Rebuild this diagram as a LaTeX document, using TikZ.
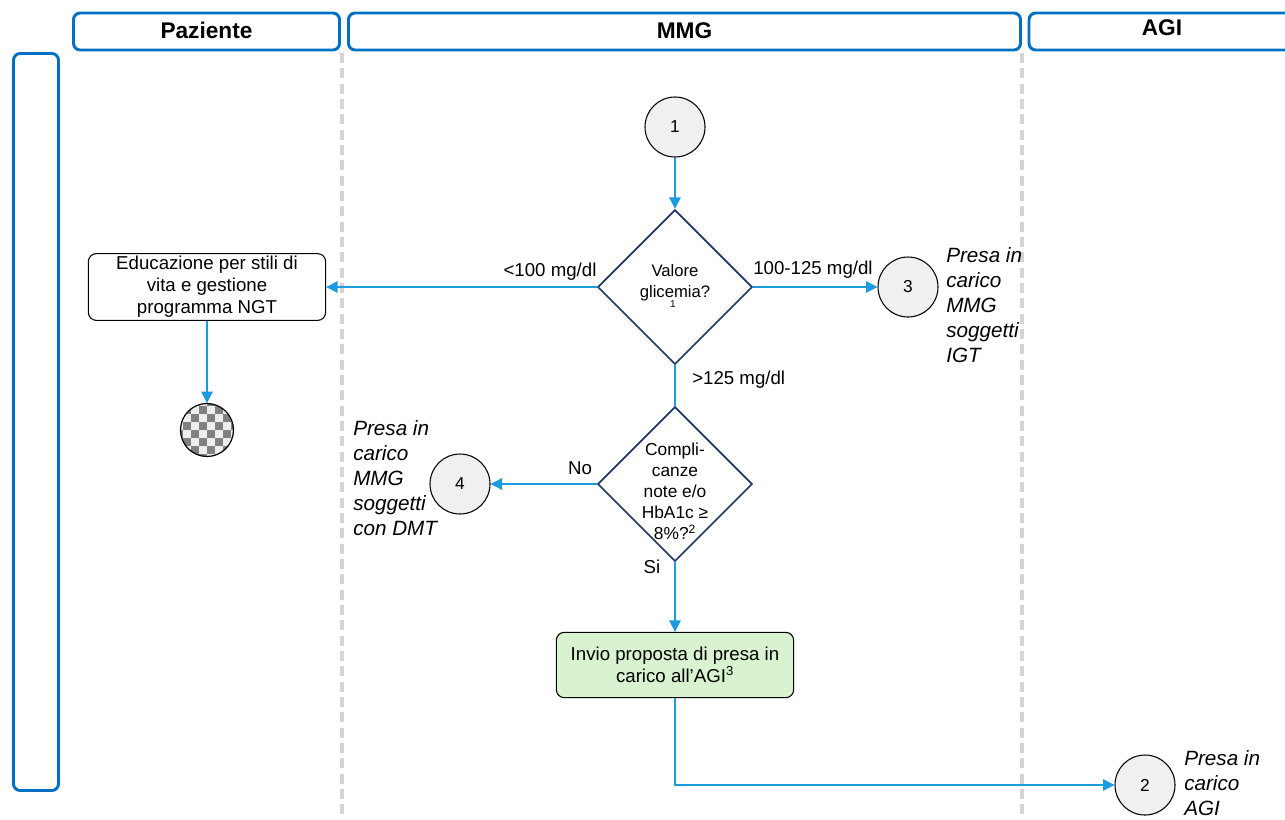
\documentclass[tikz,border=0pt]{standalone}
\usepackage{fontspec}
\setmainfont{Liberation Sans}
\usetikzlibrary{arrows.meta,shapes.geometric}

\definecolor{laneblue}{HTML}{0070C0}
\definecolor{flowblue}{HTML}{1B9BE0}
\definecolor{decnavy}{HTML}{1F3864}
\definecolor{dashgray}{HTML}{D4D4D4}
\definecolor{circfill}{HTML}{F0F0F0}
\definecolor{greenfill}{HTML}{D9F2D0}
\definecolor{chkdark}{HTML}{808080}
\definecolor{chklight}{HTML}{EEEEEE}

\tikzset{
  lanehead/.style={draw=laneblue, line width=2.2pt, rounded corners=5pt,
    font=\fontsize{17}{20}\selectfont\bfseries, inner sep=0pt},
  lanesep/.style={draw=dashgray, line width=2.6pt, dash pattern=on 7.5pt off 4pt},
  stepbox/.style={draw=black, line width=0.8pt, rounded corners=6pt,
    minimum width=178pt, minimum height=49pt, align=center, inner sep=2pt},
  decision/.style={diamond, draw=decnavy, line width=1.3pt, inner sep=0pt,
    minimum width=116pt, minimum height=116pt, aspect=1},
  connector/.style={circle, draw=black, line width=0.8pt, fill=circfill,
    minimum size=45pt, inner sep=0pt, font=\fontsize{13}{15}\selectfont},
  flow/.style={draw=flowblue, line width=1.2pt},
  flowarrow/.style={flow, -{Triangle[length=8.5pt,width=8.5pt]}},
  note/.style={font=\fontsize{15.5}{18.75}\selectfont\itshape, align=left,
    anchor=north west, inner sep=0pt},
  flowlabel/.style={inner sep=0pt}
}

\begin{document}
\begin{tikzpicture}[x=0.75pt,y=-0.75pt, font=\fontsize{14}{16.5}\selectfont]
\useasboundingbox (0,0) rectangle (1285,819);

% swimlane headers
\node[lanehead, minimum width=199.5pt, minimum height=27.75pt] (pazhead) at (206.5,31.5) {\raisebox{1.5pt}{Paziente}};
\node[lanehead, minimum width=504pt, minimum height=27.75pt] (mmghead) at (684.5,31.5) {\raisebox{1.5pt}{MMG}};
\node[lanehead, minimum width=210pt, minimum height=27.75pt] (agihead) at (1169,31.5) {};
\node[font=\fontsize{17}{20}\selectfont\bfseries] (agitext) at (1162,28) {AGI};

% row label frame
\node[draw=laneblue, line width=2.2pt, rounded corners=5pt, minimum width=33.75pt,
  minimum height=552.75pt, inner sep=0pt] (rowframe) at (36,422) {};

% lane separators
\coordinate (sepA1) at (342,53);
\coordinate (sepA2) at (342,819);
\coordinate (sepB1) at (1022,53);
\coordinate (sepB2) at (1022,819);
\draw[lanesep] (sepA1) -- (sepA2);
\draw[lanesep] (sepB1) -- (sepB2);

% start connector
\node[connector] (c1) at (675,127) {1};

% first decision
\node[decision] (d1) at (675,287) {};
\node[align=center, inner sep=0pt, font=\fontsize{12.5}{16}\selectfont] (d1text) at (675,283) {Valore\\glicemia?};
\node[font=\fontsize{7.5}{8}\selectfont, inner sep=0pt] (d1note) at (673,304) {1};

% patient education
\node[stepbox] (edu) at (207,287) {Educazione per stili di\\vita e gestione\\programma NGT};

% checkered terminator
\node[circle, minimum size=40pt, inner sep=0pt] (term) at (207,430) {};
\begin{scope}
  \clip (term.center) circle (26.5);
  \fill[chklight] (178,401) rectangle (236,459);
  \foreach \i in {0,...,7}{
    \foreach \j in {0,...,7}{
      \pgfmathtruncatemacro{\parity}{mod(\i+\j,2)}
      \ifnum\parity=0
        \fill[chkdark] (175+\i*8,398+\j*8) rectangle ++(8,8);
      \fi
    }
  }
\end{scope}
\draw[black, line width=0.9pt] (term.center) circle (26.5);

% IGT connector
\node[connector] (c3) at (908,287) {3};
\node[note] (n3) at (946,247) {Presa in\\carico\\MMG\\soggetti\\IGT};

% second decision
\node[decision] (d2) at (675,484) {};
\node[align=center, inner sep=0pt, font=\fontsize{13}{15.8}\selectfont] (d2text) at (675,491)
  {Compli-\\canze\\note e/o\\HbA1c ≥\\8\%?\textsuperscript{2}};

% DMT connector
\node[connector] (c4) at (460,484) {4};
\node[note] (n4) at (353,420) {Presa in\\carico\\MMG\\soggetti\\con DMT};

% referral box
\node[stepbox, fill=greenfill, minimum height=49pt] (invio) at (675,665)
  {Invio proposta di presa in\\carico all’AGI\textsuperscript{3}};

% AGI connector
\node[connector] (c2) at (1145,785) {2};
\node[note] (n2) at (1184,750) {Presa in\\carico\\AGI};

% connectors
\draw[flowarrow] (c1) -- (d1.north);
\draw[flowarrow] (d1.west) -- (d1.west -| edu.east);
\draw[flowarrow] (d1.east) -- (c3.west);
\draw[flowarrow] (edu.south) -- (term.north);
\draw[flow] (d1.south) -- (d2.north);
\draw[flowarrow] (d2.west) -- (c4.east);
\draw[flowarrow] (d2.south) -- (invio.north);
\coordinate (bend) at (675,785);
\draw[flowarrow] (invio.south) -- (bend) -- (c2.west);

% connector labels
\node[flowlabel] (l100) at (550,272) {<100 mg/dl};
\node[flowlabel] (l125) at (813,270) {100-125 mg/dl};
\node[flowlabel, anchor=west] (lgt) at (692,380) {>125 mg/dl};
\node[flowlabel] (lno) at (580,468) {No};
\node[flowlabel] (lsi) at (652,567) {Si};
\end{tikzpicture}
\end{document}
